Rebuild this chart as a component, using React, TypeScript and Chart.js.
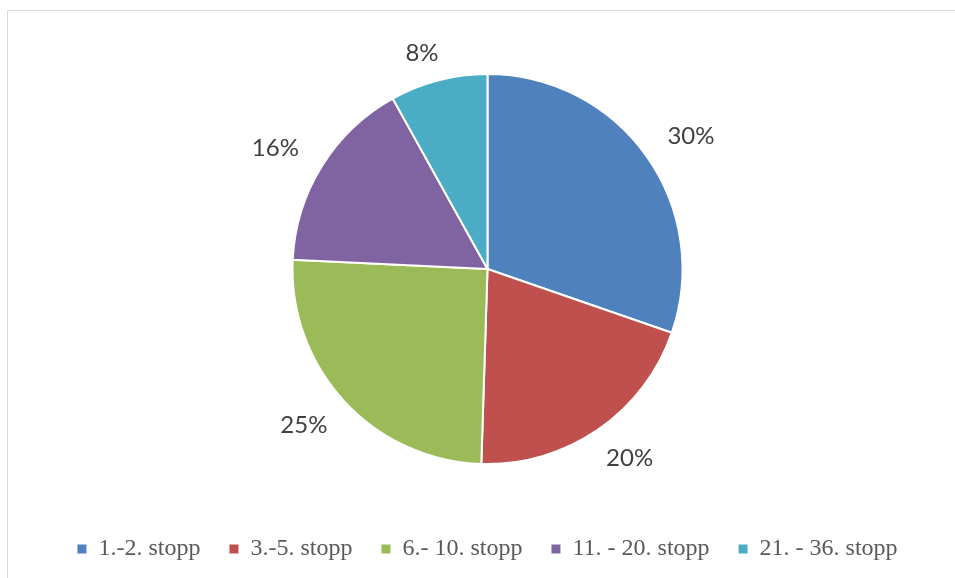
import React, { useEffect, useRef } from "react";
import { Chart, registerables } from "chart.js";

Chart.register(...registerables);

const categories = ["1.-2. stopp", "3.-5. stopp", "6.- 10. stopp", "11. - 20. stopp", "21. - 36. stopp"];
const values = [30, 20, 25, 16, 8];
const colors = ["#4F81BD", "#C0504D", "#9BBB59", "#8064A2", "#4BACC6"];

const W = 955;
const H = 571;

const labelPlugin = {
  id: "outerLabels",
  afterDatasetsDraw(chart: any) {
    const ctx = chart.ctx;
    const meta = chart.getDatasetMeta(0);
    const data = chart.data.datasets[0].data as number[];
    const total = data.reduce((a, b) => a + b, 0);
    ctx.save();
    ctx.font = "24px Lato";
    ctx.fillStyle = "#404040";
    ctx.textAlign = "center";
    ctx.textBaseline = "middle";
    meta.data.forEach((arc: any, i: number) => {
      const { x, y, startAngle, endAngle, outerRadius } = arc.getProps(
        ["x", "y", "startAngle", "endAngle", "outerRadius"],
        true
      );
      const mid = (startAngle + endAngle) / 2;
      const text = Math.round((data[i] / total) * 100) + "%";
      const w = ctx.measureText(text).width;
      const h = 20;
      const c = Math.cos(mid);
      const s = Math.sin(mid);
      const d = outerRadius + 20 + Math.abs(c) * (w / 2) + Math.abs(s) * (h / 2);
      const lx = x + c * d + Math.sign(c) * 8;
      const ly = y + s * d - Math.sign(s) * 6;
      ctx.fillText(text, lx, ly);
    });
    ctx.restore();
  },
};

export default function App() {
  const ref = useRef<HTMLCanvasElement>(null);
  useEffect(() => {
    if (!ref.current) return;
    const chart = new Chart(ref.current, {
      type: "pie",
      data: {
        labels: categories,
        datasets: [
          {
            data: values,
            backgroundColor: colors,
            borderColor: "#ffffff",
            borderWidth: 2,
          },
        ],
      },
      options: {
        responsive: false,
        animation: false,
        radius: 195,
        layout: { padding: { left: 20, right: 0, top: 30, bottom: 0 } },
        plugins: {
          tooltip: { enabled: false },
          legend: {
            position: "bottom",
            labels: {
              boxWidth: 9,
              boxHeight: 9,
              padding: 29,
              color: "#595959",
              font: { family: "Liberation Serif", size: 24 },
              generateLabels: (chart: any) =>
                categories.map((t, i) => ({
                  text: t,
                  fillStyle: colors[i],
                  strokeStyle: colors[i],
                  lineWidth: 0,
                  fontColor: "#595959",
                  hidden: false,
                  index: i,
                })),
            },
          },
        },
      },
      plugins: [labelPlugin],
    });
    return () => chart.destroy();
  }, []);
  return (
    <div
      style={{
        position: "fixed",
        left: 0,
        top: 0,
        width: W,
        height: 578,
        overflow: "hidden",
        background: "#ffffff",
      }}
    >
      <div
        style={{
          position: "absolute",
          left: 7,
          top: 10,
          width: 2000,
          height: 2000,
          borderLeft: "1px solid #d9d9d9",
          borderTop: "1px solid #d9d9d9",
        }}
      />
      <canvas ref={ref} width={W} height={H} style={{ position: "absolute", left: 0, top: 0, width: W, height: H }} />
    </div>
  );
}
